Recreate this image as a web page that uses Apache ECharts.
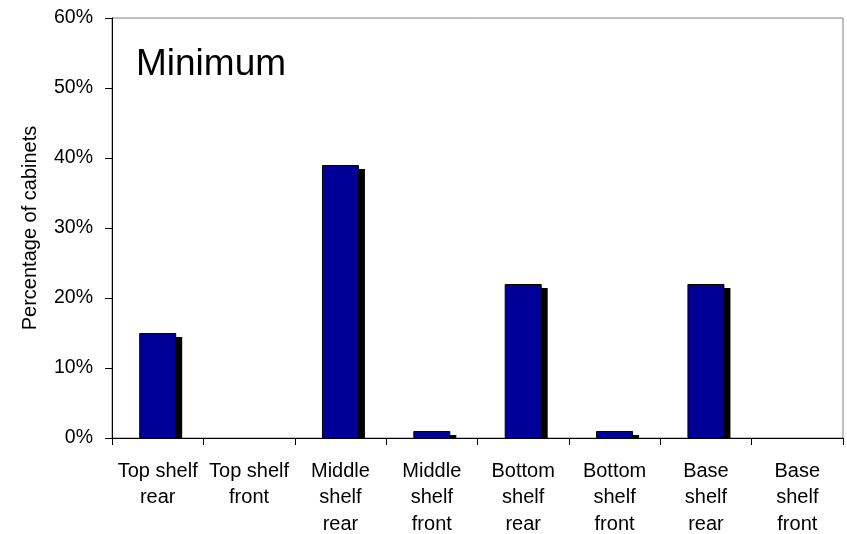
<!DOCTYPE html>
<html>
<head>
<meta charset="utf-8">
<script src="https://cdn.jsdelivr.net/npm/echarts@6/dist/echarts.min.js"></script>
<style>
  html, body { margin: 0; padding: 0; background: #fff; }
  #chart { width: 847px; height: 534px; }
</style>
</head>
<body>
<div id="chart"></div>
<script>
// Cabinet positions along the x axis
const categories = [
  'Top shelf\nrear', 'Top shelf\nfront',
  'Middle\nshelf\nrear', 'Middle\nshelf\nfront',
  'Bottom\nshelf\nrear', 'Bottom\nshelf\nfront',
  'Base\nshelf\nrear', 'Base\nshelf\nfront'
];
// Percentage of cabinets at each position (minimum)
const minimumValues = [15, 0, 39, 1, 22, 1, 22, 0];
// Y axis range and tick step (percent)
const yMin = 0;
const yMax = 60;
const yStep = 10;

const BAR_W = 37;
const SHADOW_DX = 6;
const SHADOW_DY = 4;
const FONT = 'Liberation Sans, Arial, Helvetica, sans-serif';

const chart = echarts.init(document.getElementById('chart'), null, { renderer: 'canvas' });

chart.setOption({
  animation: false,
  backgroundColor: '#ffffff',
  title: {
    text: 'Minimum',
    left: 136,
    top: 46,
    padding: 0,
    textStyle: { fontFamily: FONT, fontSize: 37, fontWeight: 'normal', color: '#000' }
  },
  grid: {
    left: 112, right: 4, top: 18, bottom: 96,
    outerBoundsMode: 'none',
    show: true, borderColor: '#808080', borderWidth: 1
  },
  xAxis: {
    type: 'category',
    data: categories,
    axisLine: { lineStyle: { color: '#000', width: 1 } },
    axisTick: { show: true, length: 7, lineStyle: { color: '#000' } },
    axisLabel: {
      interval: 0, margin: 20, color: '#000',
      fontFamily: FONT, fontSize: 20, lineHeight: 26.5
    },
    splitLine: { show: false }
  },
  yAxis: {
    type: 'value',
    min: yMin, max: yMax, interval: yStep,
    name: 'Percentage of cabinets',
    nameLocation: 'middle',
    nameGap: 72,
    nameTextStyle: { fontFamily: FONT, fontSize: 20, color: '#000' },
    axisLine: { show: true, lineStyle: { color: '#000', width: 1 } },
    axisTick: { show: true, length: 7, lineStyle: { color: '#000' } },
    axisLabel: {
      formatter: '{value}%', margin: 19, color: '#000',
      fontFamily: FONT, fontSize: 19.5
    },
    splitLine: { show: false }
  },
  series: [
    {
      // drop shadow behind each bar, clipped at the baseline
      type: 'custom',
      z: 1,
      data: minimumValues.map((v, i) => [i, v]),
      renderItem: function (params, api) {
        const v = api.value(1);
        if (!(v > 0)) return null;
        const top = api.coord([api.value(0), v]);
        const base = api.coord([api.value(0), 0]);
        const h = base[1] - top[1] - SHADOW_DY;
        if (h <= 0) return null;
        return {
          type: 'rect',
          shape: { x: top[0] - BAR_W / 2 + SHADOW_DX, y: top[1] + SHADOW_DY, width: BAR_W, height: h },
          style: { fill: '#000' }
        };
      }
    },
    {
      type: 'bar',
      z: 2,
      // zero-height bars get no outline so nothing is drawn on the axis
      data: minimumValues.map(v => (v > 0 ? v : { value: v, itemStyle: { borderWidth: 0 } })),
      barWidth: BAR_W,
      itemStyle: { color: '#000099', borderColor: '#000', borderWidth: 1 }
    }
  ]
});
</script>
</body>
</html>
